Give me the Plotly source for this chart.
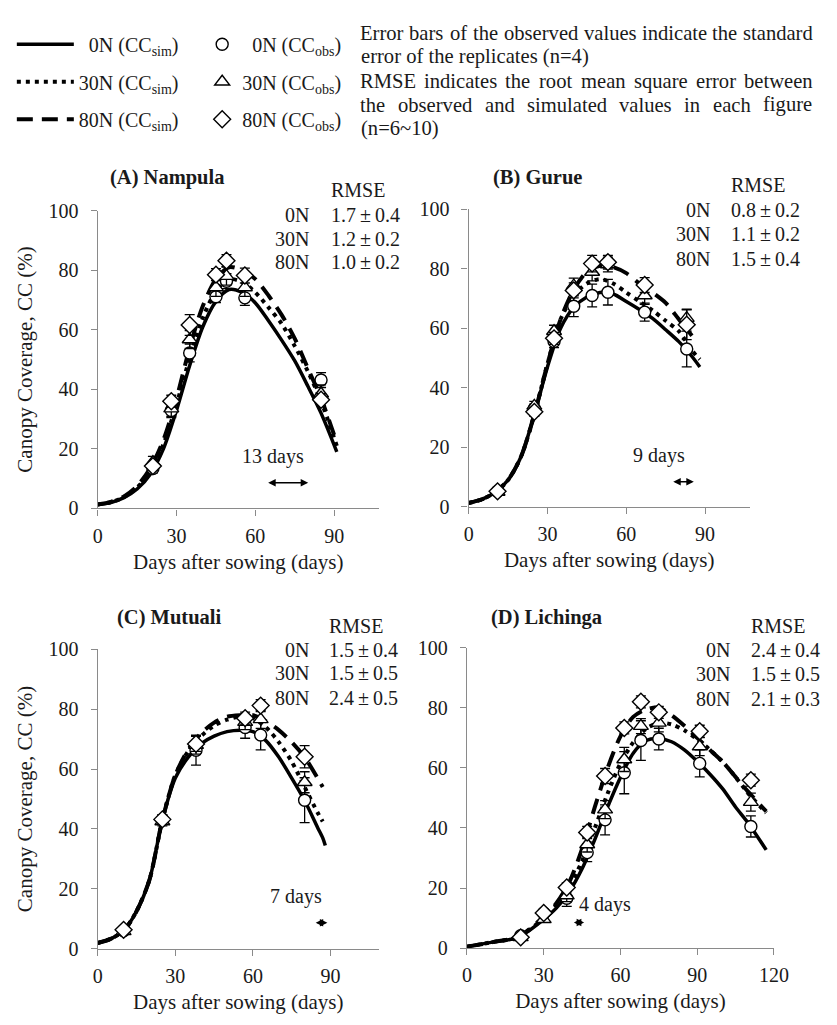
import plotly.graph_objects as go

W, H = 837, 1025
FONT = "Liberation Serif"
TXT = "#1a1a1a"
AXC = "#8a8a8a"

# ---------------- data ----------------
levels = ["0N", "30N", "80N"]

# (A) Nampula
A_sim_days = [0, 5, 10, 15, 20, 25, 30, 35, 40, 45, 50, 55, 60, 65, 70, 75, 80, 85, 91]
A_sim_0N = [1.3, 2.0, 3.6, 6.5, 11.5, 20, 33, 48, 61, 69.5, 73.5, 72.5, 69, 63, 56.5, 49.5, 41, 32, 19]
A_sim_30N = [1.3, 2.1, 3.8, 7, 12.5, 21.5, 35, 50.5, 64, 73, 77, 76, 72.5, 67.5, 62, 54.5, 46, 36, 21]
A_sim_80N = [1.3, 2.2, 4, 7.5, 13.5, 23, 37, 54, 68, 77, 81, 80, 77, 71.5, 65, 57, 47, 37, 22]
A_obs_days = [21, 28, 35, 45, 49, 56, 85]
A_obs_0N = [13.4, 32.9, 52.2, 71.1, 76.3, 70.7, 43.1]
A_obs_30N = [15.5, 33.5, 56.7, 74.2, 78, 74.2, 38.5]
A_obs_80N = [14.2, 36, 61.6, 78.5, 83.2, 78.2, 36.5]
A_err_0N = [1.5, 2, 3, 2, 2.5, 2.5, 2.5]
A_err_30N = [2, 3, 3, 3, 3, 3, 3]
A_err_80N = [1.5, 2, 3.5, 2, 2, 2.5, 2]
A_rmse = ["1.7\u2009±\u20090.4", "1.2\u2009±\u20090.2", "1.0\u2009±\u20090.2"]

# (B) Gurue
B_sim_days = [0, 5, 10, 15, 20, 25, 30, 35, 40, 45, 50, 55, 60, 65, 70, 75, 80, 85, 88]
B_sim_0N = [1.3, 2.5, 4.8, 9, 17, 31, 47, 60, 67, 70.5, 72, 71.5, 69, 66.3, 63.3, 59.5, 55.5, 50.5, 47]
B_sim_30N = [1.3, 2.5, 4.8, 9, 17, 31, 48, 63, 71, 75, 76.5, 75, 72, 69, 66, 62.5, 59, 52.5, 49.5]
B_sim_80N = [1.3, 2.5, 4.8, 9, 17, 31, 48, 63, 73, 79, 81, 80.5, 78.5, 75, 72, 68.5, 63, 57.5, None]
B_obs_days = [11, 25, 32.5, 40, 47, 53, 67, 83]
B_obs_0N = [5.2, 33, 55.5, 67.4, 71, 72.1, 65.4, 53]
B_obs_30N = [5, 33.9, 59, 74.3, 78.9, 81.4, 71, 63.4]
B_obs_80N = [5.2, 31.9, 56.6, 72.7, 81.7, 82.2, 74.5, 61.2]
B_err_0N = [0.8, 1.5, 2, 3.5, 3.8, 4.3, 3, 6]
B_err_30N = [0.8, 1.5, 2, 2.5, 3, 2.5, 3, 3]
B_err_80N = [0.8, 1.5, 2, 2.5, 2.8, 2.3, 2.5, 5]
B_rmse = ["0.8\u2009±\u20090.2", "1.1\u2009±\u20090.2", "1.5\u2009±\u20090.4"]

# (C) Mutuali
C_sim_days = [0, 5, 10, 15, 20, 25, 30, 35, 40, 45, 50, 55, 60, 65, 70, 75, 80, 85, 87, 88]
C_sim_0N = [1.9, 3.3, 6, 12.5, 23, 43, 57, 64, 68.5, 71, 72.5, 73, 72.5, 69.5, 64, 57, 49.5, 40.5, 37, 34.5]
C_sim_30N = [1.9, 3.3, 6, 12.5, 23, 43, 58, 66, 71, 74.5, 76.5, 77.5, 77, 74, 69, 62.5, 54, 45.5, 42.5, None]
C_sim_80N = [1.9, 3.3, 6, 12.5, 23, 43, 58, 66.5, 72, 75.5, 77.5, 78, 78, 76, 73, 69, 64, 57, 54, None]
C_obs_days = [10, 25, 38, 57, 63, 80]
C_obs_0N = [6, 43.2, 66.3, 73.9, 71.4, 49.6]
C_obs_30N = [5.8, 42.5, 68, 75.7, 76.6, 55.6]
C_obs_80N = [6.3, 43.2, 68.4, 77, 81.2, 64.1]
C_err_0N = [0.8, 1.5, 5, 3.6, 5, 7.5]
C_err_30N = [0.8, 1.5, 3, 2.5, 3, 3.5]
C_err_80N = [0.8, 1.5, 2.5, 2, 2, 3.7]
C_rmse = ["1.5\u2009±\u20090.4", "1.5\u2009±\u20090.5", "2.4\u2009±\u20090.5"]

# (D) Lichinga
D_sim_days = [0, 10, 20, 30, 35, 40, 45, 50, 55, 60, 65, 70, 75, 80, 85, 90, 95, 100, 105, 110, 117]
D_sim_0N = [0.5, 2, 3.6, 9.6, 13.4, 18.8, 26.4, 36.2, 47, 56.8, 64.9, 69.1, 69.8, 68.7, 66, 62.2, 57.9, 53, 47, 41.6, 32.7]
D_sim_30N = [0.5, 2, 3.7, 10, 14.5, 20.5, 29, 40, 51.5, 61.5, 68.5, 73, 75, 74.5, 72.5, 69.5, 66, 62, 57, 51.5, 45]
D_sim_80N = [0.5, 2, 3.8, 10.5, 15, 22, 33, 47, 60, 70.5, 77, 79.5, 80, 77.5, 74, 70, 66, 62, 57, 52, 45.5]
D_obs_days = [21, 30, 39, 47, 54, 61.5, 68, 75, 91, 111]
D_obs_0N = [4.1, 11.7, 16.6, 31.8, 42.7, 58.4, 69.1, 69.6, 61.5, 40.5]
D_obs_30N = [3.6, 9.6, 17.5, 34.5, 46.1, 62.8, 73.9, 75, 67.1, 48.6]
D_obs_80N = [3.6, 11.7, 20.2, 38.5, 57.3, 73.3, 82, 78.5, 72.2, 55.9]
D_err_0N = [0.8, 1, 2.7, 3, 5, 7, 6.6, 3.6, 4.5, 3.5]
D_err_30N = [0.8, 1, 2, 2.5, 3, 4, 2.5, 3, 3, 3]
D_err_80N = [0.8, 1, 1.5, 2, 2.5, 2, 2, 2, 2, 2]
D_rmse = ["2.4\u2009±\u20090.4", "1.5\u2009±\u20090.5", "2.1\u2009±\u20090.3"]

# maturity-difference arrows: start day, end day, height (%), label, label position
arrow_start = [64.3, 77.3, 83.7, 41.2]
arrow_end = [80.1, 85.7, 88.8, 45.8]
arrow_y = [8.6, 8.4, 8.7, 8.5]
arrow_label = ["13 days", "9 days", "7 days", "4 days"]
label_x = [66.8, 72.3, 76.8, 54.1]
label_y = [17.5, 17.3, 17.4, 14.5]

titles = ["(A) Nampula", "(B) Gurue", "(C) Mutuali", "(D) Lichinga"]
x_ticks_abc = [0, 30, 60, 90]
x_ticks_d = [0, 30, 60, 90, 120]
y_ticks = [0, 20, 40, 60, 80, 100]

# ---------------- layout geometry (pixels) ----------------
def px_x(p):
    return p / W

def px_y(p):
    return 1 - p / H

panels = [
    dict(title=titles[0], sd=A_sim_days, sim=[A_sim_0N, A_sim_30N, A_sim_80N], od=A_obs_days,
         obs=[A_obs_0N, A_obs_30N, A_obs_80N], err=[A_err_0N, A_err_30N, A_err_80N], rmse=A_rmse,
         xd=(95, 383), yd=(204, 508.3), xr=[0, 107], xt=x_ticks_abc, ytitle=True,
         tpos=(106, 170), rm_lab=313, rm_val=332, rm_y=[183, 208, 233, 257]),
    dict(title=titles[1], sd=B_sim_days, sim=[B_sim_0N, B_sim_30N, B_sim_80N], od=B_obs_days,
         obs=[B_obs_0N, B_obs_30N, B_obs_80N], err=[B_err_0N, B_err_30N, B_err_80N], rmse=B_rmse,
         xd=(475, 763), yd=(202.5, 506.7), xr=[0, 107], xt=x_ticks_abc, ytitle=False,
         tpos=(498, 170), rm_lab=724, rm_val=742, rm_y=[178, 203, 228, 253]),
    dict(title=titles[2], sd=C_sim_days, sim=[C_sim_0N, C_sim_30N, C_sim_80N], od=C_obs_days,
         obs=[C_obs_0N, C_obs_30N, C_obs_80N], err=[C_err_0N, C_err_30N, C_err_80N], rmse=C_rmse,
         xd=(95, 383), yd=(652.3, 958.3), xr=[0, 108.7], xt=x_ticks_abc, ytitle=True,
         tpos=(113, 620), rm_lab=313, rm_val=330, rm_y=[628, 653, 677, 702]),
    dict(title=titles[3], sd=D_sim_days, sim=[D_sim_0N, D_sim_30N, D_sim_80N], od=D_obs_days,
         obs=[D_obs_0N, D_obs_30N, D_obs_80N], err=[D_err_0N, D_err_30N, D_err_80N], rmse=D_rmse,
         xd=(473.3, 787.7), yd=(650.7, 957.7), xr=[0, 120], xt=x_ticks_d, ytitle=False,
         tpos=(496, 620), rm_lab=745, rm_val=762, rm_y=[628, 653, 678, 703]),
]

line_styles = [
    dict(color="black", width=3.5, dash="solid"),
    dict(color="black", width=4, dash="4px,5px"),
    dict(color="black", width=4, dash="16px,9px"),
]
symbols = ["circle", "triangle-up", "diamond"]
msizes = [12, 13, 13]
fig_space = "\u2007"
sim_names = [fig_space + "0N (CC<sub>sim</sub>)", "30N (CC<sub>sim</sub>)", "80N (CC<sub>sim</sub>)"]
obs_names = [fig_space + "0N (CC<sub>obs</sub>)", "30N (CC<sub>obs</sub>)", "80N (CC<sub>obs</sub>)"]

fig = go.Figure()
annotations = []
layout_axes = {}

for i, p in enumerate(panels):
    ax = "" if i == 0 else str(i + 1)
    xref, yref = "x" + ax, "y" + ax
    # simulated lines first (so markers sit on top)
    for k in range(3):
        fig.add_trace(go.Scatter(
            x=p["sd"], y=p["sim"][k], mode="lines", xaxis=xref, yaxis=yref,
            line=dict(shape="spline", smoothing=0.8, **line_styles[k]),
            name=sim_names[k], legend="legend", legendgroup="s" + levels[k],
            showlegend=(i == 0), hoverinfo="skip"))
    for k in range(3):
        fig.add_trace(go.Scatter(
            x=p["od"], y=p["obs"][k], mode="markers", xaxis=xref, yaxis=yref,
            marker=dict(symbol=symbols[k], size=msizes[k], color="white",
                        line=dict(color="black", width=1.4)),
            error_y=dict(type="data", array=p["err"][k], visible=True,
                         color="black", thickness=1.3, width=5),
            name=obs_names[k], legend="legend2", legendgroup="o" + levels[k],
            showlegend=(i == 0), cliponaxis=False, hoverinfo="skip"))

    common = dict(showgrid=False, zeroline=False, showline=True, linecolor=AXC, linewidth=1.3,
                  ticks="outside", ticklen=6, tickwidth=1.3, tickcolor=AXC,
                  tickfont=dict(family=FONT, size=20, color=TXT))
    layout_axes["xaxis" + ax] = dict(
        domain=[px_x(p["xd"][0]), px_x(p["xd"][1])], range=p["xr"], tickvals=p["xt"],
        anchor=yref, ticklabelstandoff=3,
        title=dict(text="Days after sowing (days)", standoff=8,
                   font=dict(family=FONT, size=21, color=TXT)), **common)
    ydict = dict(domain=[px_y(p["yd"][1]), px_y(p["yd"][0])], range=[0, 100], tickvals=y_ticks,
                 anchor=xref, ticklabelstandoff=8, **common)
    if p["ytitle"]:
        ydict["title"] = dict(text="Canopy Coverage, CC (%)", standoff=10,
                              font=dict(family=FONT, size=21, color=TXT))
    layout_axes["yaxis" + ax] = ydict

    # panel title
    annotations.append(dict(text="<b>" + p["title"] + "</b>", x=px_x(p["tpos"][0]), y=px_y(p["tpos"][1]),
                            xref="paper", yref="paper", xanchor="left", yanchor="middle",
                            showarrow=False, font=dict(family=FONT, size=20.5, color=TXT)))
    # RMSE block
    annotations.append(dict(text="RMSE", x=px_x(p["rm_val"]), y=px_y(p["rm_y"][0]),
                            xref="paper", yref="paper", xanchor="left", yanchor="middle",
                            showarrow=False, font=dict(family=FONT, size=20, color=TXT)))
    for k in range(3):
        annotations.append(dict(text=levels[k], x=px_x(p["rm_lab"]), y=px_y(p["rm_y"][k + 1]),
                                xref="paper", yref="paper", xanchor="right", yanchor="middle",
                                showarrow=False, font=dict(family=FONT, size=20, color=TXT)))
        annotations.append(dict(text=p["rmse"][k], x=px_x(p["rm_val"]), y=px_y(p["rm_y"][k + 1]),
                                xref="paper", yref="paper", xanchor="left", yanchor="middle",
                                showarrow=False, font=dict(family=FONT, size=20, color=TXT)))
    # arrow + label
    annotations.append(dict(x=arrow_end[i], y=arrow_y[i], ax=arrow_start[i], ay=arrow_y[i],
                            xref=xref, yref=yref, axref=xref, ayref=yref, text="",
                            showarrow=True, arrowhead=2, startarrowhead=2, arrowside="end+start",
                            arrowsize=1, startarrowsize=1, arrowwidth=1.5, arrowcolor="black",
                            standoff=0, startstandoff=0))
    annotations.append(dict(text=arrow_label[i], x=label_x[i], y=label_y[i], xref=xref, yref=yref,
                            showarrow=False, xanchor="center", yanchor="middle",
                            font=dict(family=FONT, size=20, color=TXT)))

# ---------------- explanatory note (justified text) ----------------
TIMES = {' ': 250, '(': 333, ')': 333, '=': 564, '~': 541, '-': 333, '%': 833, ',': 250, '.': 250,
         'A': 722, 'B': 667, 'C': 667, 'D': 722, 'E': 611, 'F': 556, 'G': 722, 'H': 722, 'I': 333,
         'M': 889, 'N': 722, 'O': 722, 'R': 667, 'S': 556, 'T': 611,
         'a': 444, 'b': 500, 'c': 444, 'd': 500, 'e': 444, 'f': 333, 'g': 500, 'h': 500, 'i': 278,
         'j': 278, 'k': 500, 'l': 278, 'm': 778, 'n': 500, 'o': 500, 'p': 500, 'q': 500, 'r': 333,
         's': 389, 't': 278, 'u': 500, 'v': 500, 'w': 722, 'x': 500, 'y': 500, 'z': 444}


def tw(s, fs):
    return sum(TIMES.get(c, 500) for c in s) / 1000.0 * fs


note_lines = ["Error bars of the observed values indicate the standard",
              "error of the replicates (n=4)",
              "RMSE indicates the root mean square error between",
              "the observed and simulated values in each figure",
              "(n=6~10)"]
note_justify = [True, False, True, True, False]
note_y = [22, 46, 72, 96, 120]
NX0, NX1, NFS = 363, 825, 20.6
for line, just, yy in zip(note_lines, note_justify, note_y):
    if not just:
        annotations.append(dict(text=line, x=px_x(NX0), y=px_y(yy), xref="paper", yref="paper",
                                xanchor="left", yanchor="middle", showarrow=False,
                                font=dict(family=FONT, size=NFS, color=TXT)))
        continue
    words = line.split()
    widths = [tw(w, NFS) for w in words]
    gap = (NX1 - NX0 - sum(widths)) / (len(words) - 1)
    xx = NX0
    for w, wd in zip(words, widths):
        annotations.append(dict(text=w, x=px_x(xx), y=px_y(yy), xref="paper", yref="paper",
                                xanchor="left", yanchor="middle", showarrow=False, borderpad=0,
                                font=dict(family=FONT, size=NFS, color=TXT)))
        xx += wd + gap

legend_font = dict(family=FONT, size=20, color=TXT)
fig.update_layout(
    width=W, height=H, autosize=False,
    margin=dict(l=0, r=0, t=0, b=0),
    paper_bgcolor="white", plot_bgcolor="white",
    font=dict(family=FONT, color=TXT),
    annotations=annotations,
    legend=dict(x=px_x(7), y=px_y(14), xanchor="left", yanchor="top", itemwidth=57,
                font=legend_font, tracegroupgap=8.5, bgcolor="rgba(0,0,0,0)", borderwidth=0),
    legend2=dict(x=px_x(202), y=px_y(14), xanchor="left", yanchor="top", itemwidth=30,
                 font=legend_font, tracegroupgap=8.5, bgcolor="rgba(0,0,0,0)", borderwidth=0),
    **layout_axes,
)

fig.write_html("out.html", config={"displayModeBar": False},
               post_script="document.body.style.margin='0px';document.body.style.overflow='hidden';")
